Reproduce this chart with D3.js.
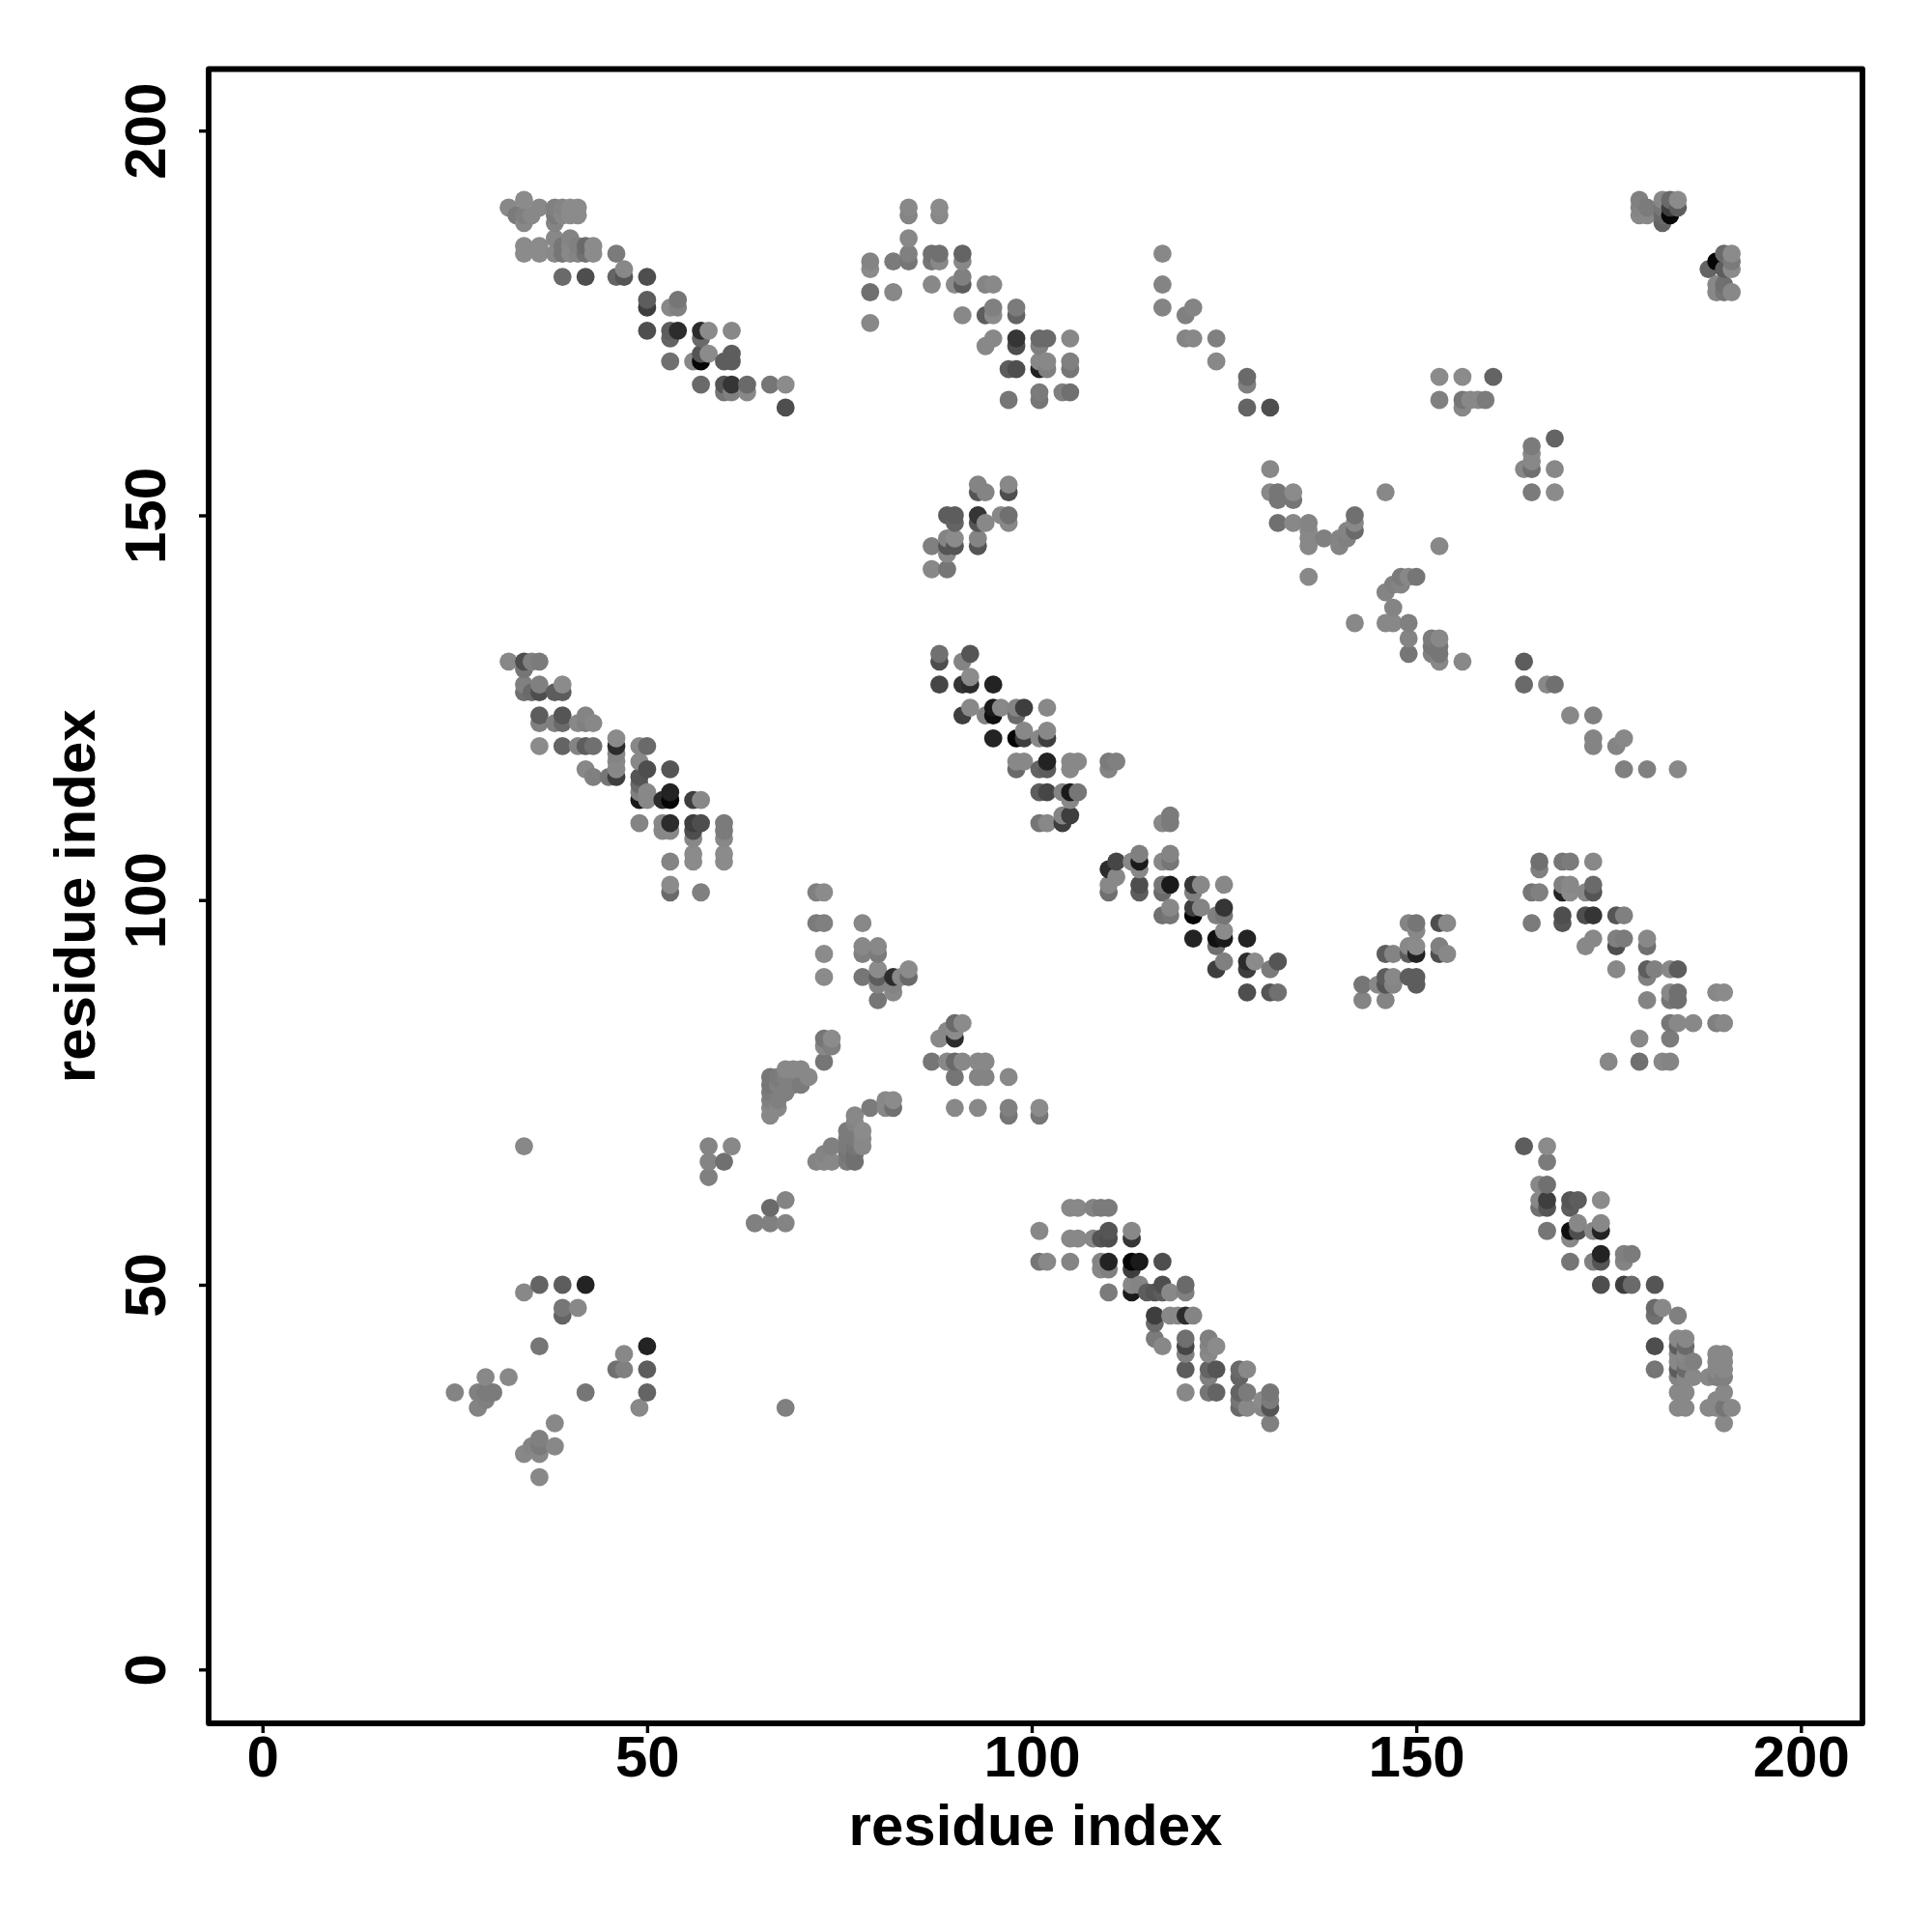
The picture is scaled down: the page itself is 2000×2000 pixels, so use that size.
<!DOCTYPE html>
<html><head><meta charset="utf-8">
<script src="https://cdnjs.cloudflare.com/ajax/libs/d3/7.8.5/d3.min.js"></script>
<style>html,body{margin:0;padding:0;background:#fff}svg{display:block}</style>
</head><body><div id="chart"></div>
<script>
// Each contact: [residue i, residue j, strength 0..1]
const tickValues = [0, 50, 100, 150, 200];
const xLabel = "residue index";
const yLabel = "residue index";
const clusterA = [[32,190,.1],[34,191,.05],[34,189,.2],[34,188,.1],[33,189,.25],[35,189,.1],[36,190,.1],[38,190,.2],[38,189,.25],[38,188,.15],[39,190,.15],[39,189,.1],[40,190,.05],[40,189,.05],[41,190,.05],[41,189,.05],
[34,185,.05],[34,184,.05],[36,185,.05],[36,184,.05],[38,186,.1],[38,184,.1],[39,185,.3],[39,184,.3],[40,186,.15],[40,185,.1],[40,184,.1],[41,185,.2],[41,184,.15],[42,185,.4],[42,184,.35],[43,185,.05],[43,184,.05],
[39,181,.4],[42,181,.6],[46,184,.25],[46,181,.45],[47,182,.1],[47,181,.55],[50,181,.6],[50,178,.5],[50,177,.7],[53,177,.1],[54,178,.3],[54,177,.2],
[50,174,.6],[53,174,.5],[54,174,.8],[53,173,.45],[57,174,.8],[58,174,.05],[57,173,.4],[61,174,.1],[53,170,.35],[56,170,.1],[57,171,.55],[57,170,1],[58,171,.05],[60,170,.5],[61,171,.5],[61,170,.5],
[57,167,.4],[60,167,.55],[60,166,.3],[61,167,.75],[61,166,.2],[63,167,.4],[63,166,.1],[66,167,.3],[68,167,.05],[68,164,.6]];
const clusterB = [[84,190,.1],[84,189,.15],[88,190,.05],[88,189,.1],[84,186,.1],[84,184,.2],[84,183,.3],[79,183,.15],[79,182,.05],[79,179,.35],[79,175,.1],[82,183,.25],[82,179,.1],
[87,184,.35],[87,183,.3],[88,184,.35],[88,183,.1],[91,184,.45],[91,183,.1],[91,181,.2],[91,180,.5],[87,180,.1],[90,180,.05],[94,180,.15],[95,180,.08],
[91,176,.1],[94,176,.5],[95,177,.2],[95,176,.05],[98,177,.25],[98,176,.45],[94,172,.1],[95,173,.1],[98,173,.75],[98,172,.6],[101,173,.4],[102,173,.4],[101,172,.2],[105,173,.1],
[97,169,.5],[98,169,.6],[101,169,.85],[101,170,.1],[102,170,.1],[102,169,.2],[105,170,.2],[105,169,.3],[97,165,.3],[101,166,.25],[101,165,.3],[104,166,.2],[105,166,.35]];
const clusterC = [[117,184,.1],[117,180,.15],[117,177,.15],[121,177,.15],[120,176,.2],[120,173,.15],[121,173,.1],[124,173,.2],[124,170,.1],[128,168,.4],[128,167,.2],[128,164,.45],[131,164,.6]];
const clusterD = [[93,154,.15],[93,153,.55],[94,153,.15],[97,154,.1],[97,153,.6],[89,150,.5],[90,150,.5],[93,150,.75],[93,149,.55],[94,149,.1],[96,150,.1],[97,150,.35],[97,149,.1],[90,149,.45],
[90,147,.05],[89,147,.15],[89,146,.55],[90,146,.55],[87,146,.2],[89,145,.1],[93,147,.15],[93,146,.55],[87,143,.1],[89,143,.3]];
const clusterE = [[131,156,.1],[131,153,.1],[132,153,.3],[132,152,.3],[134,153,.05],[134,152,.3],[132,149,.35],[134,149,.1],[136,149,.15],[136,148,.1],[136,147,.1],[136,146,.1],[138,147,.2],[140,147,.15],[140,146,.15],[141,148,.15],[141,147,.2],[142,150,.35],[142,149,.1],[142,148,.4],[146,153,.1],[153,146,.1],[136,142,.1],
[146,140,.15],[147,141,.2],[148,142,.25],[148,141,.15],[149,142,.1],[150,142,.3],[147,138,.15],[146,136,.1],[147,136,.1],[149,136,.2],[142,136,.1],[149,134,.15],[149,132,.3],[152,134,.25],[153,134,.1],[152,133,.3],[153,133,.3],[152,132,.2],[153,132,.3],[153,131,.1],[156,131,.1]];
const clusterTopRight = [[179,191,.2],[179,190,.15],[179,189,.1],[180,190,.25],[180,189,.1],[182,191,.1],[182,190,.3],[182,189,.4],[182,188,.45],[183,191,.4],[183,190,.7],[183,189,1],[184,191,.05],[184,190,.5],
[188,182,.45],[189,183,1],[189,180,.1],[189,179,.1],[190,184,.4],[190,182,.5],[190,180,.35],[190,179,.3],[191,184,.05],[191,183,.25],[191,182,.05],[191,179,.1]];
const clusterF = [[153,168,.05],[156,168,.05],[160,168,.45],[153,165,.2],[156,165,.3],[156,164,.1],[157,165,.1],[158,165,.1],[159,165,.25],
[168,160,.45],[165,159,.25],[165,158,.1],[165,157,.1],[165,156,.35],[164,156,.1],[168,156,.1],[165,153,.25],[168,153,.05]];
const clusterG = [[164,131,.5],[164,128,.4],[167,128,.1],[168,128,.35],[170,124,.1],[173,124,.2],[173,121,.15],[173,120,.15],[176,120,.15],[177,121,.1],[177,117,.2],[180,117,.2],[184,117,.1]];
const clusterH = [[166,105,.35],[166,104,.2],[169,105,.3],[170,105,.25],[173,105,.1],[165,101,.3],[166,101,.2],[169,102,.2],[169,101,.85],[170,102,.1],[170,101,.05],[172,101,.1],[173,102,.4],[173,101,.55],
[165,97,.25],[169,98,.6],[169,97,.55],[172,98,.6],[173,98,.75],[176,98,.55],[177,98,.2],[172,94,.1],[173,95,.1],[176,95,.2],[176,94,.6],[177,95,.25],[180,95,.1],[180,94,.35],
[176,91,.1],[180,91,.5],[181,91,.2],[180,90,.2],[183,91,.1],[184,91,.5],[180,87,.15],[183,88,.1],[184,88,.35],[183,87,.3],[184,87,.35],[189,88,.1],[190,88,.05],
[183,84,.3],[184,84,.1],[186,84,.1],[189,84,.2],[190,84,.1],[179,82,.1],[183,82,.25],[175,79,.1],[179,79,.35],[182,79,.1],[183,79,.15]];
const clusterI = [[149,97,.15],[150,97,.3],[150,96,.1],[153,97,.6],[154,97,.1],[149,94,.1],[150,94,.05],[149,93,.5],[150,93,.85],[153,94,.2],[153,93,.6],[154,93,.1],[146,93,.5],[147,93,.15],
[146,90,.5],[147,90,.1],[146,89,.55],[147,89,.15],[149,90,.5],[150,90,.5],[150,89,.5],[143,89,.3],[145,89,.1],[143,87,.15],[146,87,.15]];
const clusterJ = [[32,131,.1],[34,131,.6],[35,131,.2],[36,131,.25],[34,130,.3],[34,128,.2],[34,127,.35],[35,127,.4],[36,128,.2],[36,127,.6],[38,127,.5],[39,128,.05],[39,127,.5],
[36,124,.5],[36,123,.2],[38,123,.2],[39,124,.55],[39,123,.4],[41,123,.1],[42,124,.15],[42,123,.2],[43,123,.1],[36,120,.05],[39,120,.45],[41,120,.15],[42,120,.5],[43,120,.35],
[46,121,.05],[46,120,.8],[46,119,.15],[46,118,.1],[46,117,.1],[46,116,.7],[42,117,.1],[43,116,.2],[45,116,.3],[49,120,.1],[50,120,.4],[49,118,.1],[50,117,.6],[49,116,.55],[49,115,.4],[49,114,.2],[50,114,.1],[49,113,.9],[50,113,.1],
[53,117,.55],[52,113,.8],[53,114,.85],[53,113,1],[56,113,.7],[57,113,.1],[49,110,.15],[52,110,.1],[53,110,.8],[52,109,.1],[53,109,.1],[56,110,.7],[57,110,.6],[56,109,.6],[56,108,.1],[56,106,.05],[56,105,.05],
[60,110,.25],[60,109,.25],[60,108,.1],[60,106,.05],[60,105,.05],[53,105,.15],[53,102,.05],[53,101,.4],[57,101,.2]];
const clusterK = [[72,101,.2],[73,101,.05],[72,97,.25],[73,97,.2],[78,97,.1],[73,93,.05],[78,94,.1],[78,93,.2],[80,94,.1],[80,93,.25],[80,91,.05],[80,90,.5],[80,89,.15],[80,87,.3],[78,90,.3],[73,90,.05],[82,90,.8],[83,90,.1],[84,91,.05],[84,90,.4],[82,89,.15],[82,88,.1]];
const clusterL = [[73,82,.3],[74,82,.05],[73,81,.1],[74,81,.2],[73,79,.3],[66,77,.3],[66,76,.3],[66,75,.25],[66,74,.2],[66,73,.1],[66,72,.1],[67,77,.25],[67,76,.2],[67,74,.2],[67,73,.1],[68,78,.1],[68,77,.2],[68,75,.2],[69,78,.1],[69,76,.2],[70,78,.1],[70,76,.25],[71,77,.1],
[72,66,.15],[73,67,.15],[73,66,.1],[74,68,.2],[74,66,.1],[76,70,.25],[76,69,.25],[76,68,.25],[76,67,.3],[76,66,.25],[77,72,.1],[77,71,.15],[77,70,.25],[77,69,.25],[77,68,.3],[77,67,.35],[77,66,.35],[78,70,.05],[78,69,.1],[78,68,.1],
[79,73,.25],[81,74,.1],[81,73,.1],[82,74,.05],[82,73,.35]];
const clusterLowLeft = [[34,68,.1],[58,68,.15],[58,66,.15],[58,64,.2],[60,66,.35],[61,68,.1],[68,61,.15],[66,60,.4],[64,58,.2],[66,58,.2],[68,58,.15],
[36,50,.45],[39,50,.5],[42,50,.85],[34,49,.1],[39,47,.3],[41,47,.1],[39,46,.45],[36,42,.3],[50,42,.85],[47,41,.1],[46,39,.35],[47,39,.2],[50,39,.5],[42,36,.3],[50,36,.45],[49,34,.1],[68,34,.2],
[25,36,.15],[28,36,.2],[29,38,.1],[32,38,.1],[29,36,.25],[30,36,.25],[29,35,.2],[28,34,.15],[38,32,.1],[36,30,.2],[36,29,.25],[35,29,.15],[34,28,.1],[36,28,.1],[38,29,.1],[36,25,.1]];
const clusterM = [[88,132,.35],[88,131,.6],[92,132,.55],[91,131,.15],[88,128,.65],[91,128,.75],[92,129,.05],[92,128,.8],[95,128,.85],[91,124,.7],[92,125,.1],[94,124,.15],[95,125,.9],[95,124,.95],[96,125,.1],[98,125,.15],[98,124,.4],[99,125,.7],[102,125,.1],
[95,121,.85],[98,121,1],[99,122,.1],[99,121,.7],[101,121,.1],[102,122,.1],[102,121,.7],[98,118,.1],[99,118,.1],[98,117,.4],[101,117,.45],[102,118,.85],[102,117,.5],[105,118,.1],[106,118,.1],[105,117,.1],[110,118,.25],[111,118,.2],[110,117,.15],
[101,114,.5],[102,114,.65],[104,114,.15],[105,114,.9],[106,114,.3],[105,113,.1],[101,110,.3],[102,110,.1],[104,111,.15],[104,110,.7],[105,111,.7]];
const clusterN = [[118,111,.25],[117,110,.1],[118,110,.25],[110,104,.8],[111,105,.65],[111,103,.1],[113,105,.1],[114,106,.2],[114,105,.9],[114,104,.1],[118,106,.15],[117,105,.1],[118,105,.3],
[110,102,.1],[110,101,.35],[114,102,.6],[114,101,.5],[117,102,.3],[118,102,.9],[117,101,.4],[121,102,.75],[122,102,.1],[121,101,.2],[125,102,.1],
[118,99,.1],[117,98,.35],[118,98,.3],[121,99,.7],[122,99,.15],[121,98,1],[124,98,.2],[125,99,.75],[125,98,.3],[121,95,.85],[124,95,.95],[125,96,.05],[125,95,.9],[124,94,.35],[128,95,.85],
[125,92,.2],[124,91,.7],[128,92,.8],[129,92,.05],[128,91,.7],[131,91,.25],[132,92,.55],[128,88,.6],[131,88,.55],[132,88,.35]];
const clusterO = [[88,82,.1],[89,83,.1],[90,84,.4],[91,84,.05],[90,83,.05],[90,82,.8],[87,79,.3],[89,79,.1],[90,79,.4],[91,79,.1],[93,79,.1],[94,79,.1],[90,77,.3],[93,77,.15],[94,77,.15],[97,77,.1],[90,73,.1],[93,73,.1],[97,73,.2],[97,72,.3],[101,73,.05],[101,72,.3]];
const clusterP = [[105,60,.1],[106,60,.1],[108,60,.15],[109,60,.25],[110,60,.25],[101,57,.1],[105,56,.1],[106,56,.1],[108,56,.1],[109,56,.55],[110,57,.55],[110,56,.6],[113,57,.1],[113,56,.75],
[101,53,.3],[102,53,.1],[105,53,.15],[109,53,.15],[110,53,.85],[109,52,.1],[110,52,.2],[113,53,1],[114,53,.9],[113,52,.7],[117,53,.6],
[110,49,.25],[113,50,.1],[113,49,.9],[114,50,.15],[115,49,.5],[116,49,.55],[117,50,.6],[117,49,.5],[118,49,.1],[120,50,.4],[120,49,.2],
[116,46,.7],[116,45,.4],[118,46,.1],[119,46,.1],[120,46,.8],[121,46,.15],[116,43,.25],[117,42,.1],[120,43,.35],[120,42,.65],[120,41,.2],[120,39,.5],[120,36,.1],
[123,43,.2],[123,42,.15],[124,42,.05],[123,41,.1],[123,39,.45],[124,39,.55],[123,38,.2],[123,36,.3],[124,36,.45],[127,39,.4],[128,39,.1],[127,38,.45],[127,36,.45],[128,36,.25],[127,35,.3],[127,34,.4],[128,34,.1],[130,35,.05],[130,34,.1],[131,36,.3],[131,35,.25],[131,34,.55],[131,32,.2]];
const clusterQ = [[164,68,.5],[167,68,.05],[167,66,.25],[166,63,.1],[167,63,.35],[166,61,.1],[167,61,.7],[166,60,.35],[167,60,.55],[170,61,.55],[171,61,.5],[170,60,.5],[174,61,.05],[170,57,.95],[171,58,.1],[171,57,.6],[170,56,.1],[167,57,.3],[173,57,.1],[174,58,.1],[174,57,.85],
[170,53,.3],[173,53,.2],[174,54,.85],[174,53,.55],[177,54,.2],[178,54,.25],[177,53,.15],[174,50,.6],[177,50,.7],[178,50,.4],[181,50,.55],[181,47,.4],[182,47,.1],[181,46,.35],[184,46,.2],[181,42,.6],[181,39,.3],
[184,43,.1],[185,43,.1],[184,42,.5],[185,42,.4],[184,41,.1],[185,41,.1],[184,40,.1],[185,40,.15],[184,39,.5],[185,39,.4],[184,38,.15],[185,38,.1],[184,36,.1],[185,36,.1],[184,34,.1],[185,34,.1],[186,40,.2],[186,38,.1],[188,38,.1],
[189,41,.1],[190,41,.1],[189,40,.1],[190,40,.1],[189,39,.1],[190,39,.1],[189,38,.2],[190,38,.2],[190,36,.1],[188,34,.1],[189,35,.1],[189,34,.1],[190,34,.3],[191,34,.1],[190,32,.1]];

const clusters = [clusterA,clusterB,clusterC,clusterD,clusterE,clusterTopRight,clusterF,clusterG,clusterH,clusterI,clusterJ,clusterK,clusterL,clusterLowLeft,clusterM,clusterN,clusterO,clusterP,clusterQ];
const contacts = clusters.flat().slice().sort((a,b)=>d3.ascending(a[0],b[0])||d3.ascending(a[1],b[1]));

const W=2000,H=2000,left=216,right=1928,top_=71.5,bottom=1784;
const font='"Liberation Sans", Arial, sans-serif';
const x=d3.scaleLinear().domain([-7,208]).range([left,right]);
const y=d3.scaleLinear().domain([-7,208]).range([bottom,top_]);
const shade=d3.scalePow().exponent(1.5).domain([0,1]).range([140,6]);

const svg=d3.select("#chart").append("svg").attr("width",W).attr("height",H).attr("viewBox",`0 0 ${W} ${H}`);
svg.append("rect").attr("width",W).attr("height",H).attr("fill","#fff");

svg.append("g").selectAll("circle").data(contacts).join("circle")
  .attr("cx",d=>x(d[0])).attr("cy",d=>y(d[1])).attr("r",9.4)
  .attr("fill",d=>{const g=Math.round(shade(d[2]));return `rgb(${g},${g},${g})`;});

svg.append("rect").attr("x",left).attr("y",top_).attr("width",right-left).attr("height",bottom-top_)
  .attr("fill","none").attr("stroke","#000").attr("stroke-width",5.8).attr("stroke-linejoin","round");

const gx=svg.append("g").attr("transform",`translate(0,${bottom})`)
  .call(d3.axisBottom(x).tickValues(tickValues).tickSize(10).tickPadding(0));
const gy=svg.append("g").attr("transform",`translate(${left},0)`)
  .call(d3.axisLeft(y).tickValues(tickValues).tickSize(10).tickPadding(0));
[gx,gy].forEach(g=>{g.select(".domain").remove();
  g.selectAll(".tick line").attr("stroke","#000").attr("stroke-width",3.4);});
gx.selectAll(".tick text").attr("y",55).attr("dy",0).attr("fill","#000")
  .style("font",`bold 60px ${font}`).attr("text-anchor","middle");
gy.selectAll(".tick text").attr("x",0).attr("dy",0).attr("fill","#000")
  .style("font",`bold 60px ${font}`).attr("text-anchor","middle")
  .attr("transform","translate(-45,0) rotate(-90)");

svg.append("text").attr("x",(left+right)/2).attr("y",1910).attr("text-anchor","middle")
  .style("font",`bold 60px ${font}`).attr("fill","#000").text(xLabel);
svg.append("text").attr("transform",`translate(98,${(top_+bottom)/2}) rotate(-90)`).attr("text-anchor","middle")
  .style("font",`bold 60px ${font}`).attr("fill","#000").text(yLabel);
</script></body></html>
